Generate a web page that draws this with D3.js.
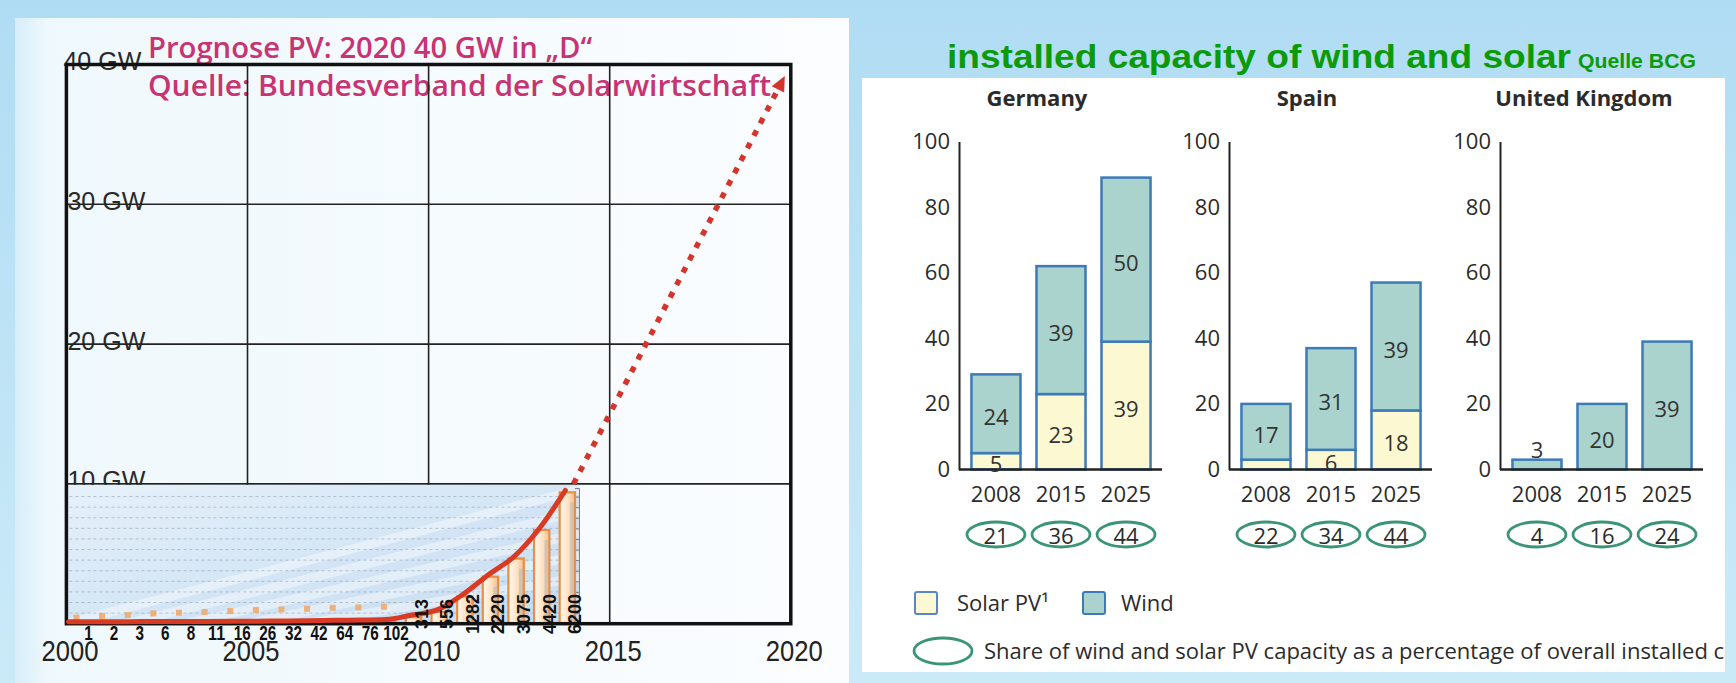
<!DOCTYPE html>
<html>
<head>
<meta charset="utf-8">
<script src="https://cdn.jsdelivr.net/npm/d3@7"></script>
<style>
  html, body { margin: 0; padding: 0; background: #c2e5f6; }
  svg { display: block; }
</style>
</head>
<body>
<svg id="chart" width="1736" height="683"></svg>
<script>
// ---------- Left panel: German PV capacity with 2020 outlook ----------
const yearTicks = [2000, 2005, 2010, 2015, 2020];
const gwTicks = [10, 20, 30, 40];
const gwTickLabels = ["10 GW", "20 GW", "30 GW", "40 GW"];
// installed PV (MW) shown as the small bar series
const pvLabels = ["1", "2", "3", "6", "8", "11", "16", "26", "32", "42", "64", "76", "102",
                  "313", "556", "1282", "2220", "3075", "4420", "6200"];
const pvMW = [1, 2, 3, 6, 8, 11, 16, 26, 32, 42, 64, 76, 102,
              313, 556, 1282, 2220, 3075, 4420, 6200];
const forecastYears = [2014, 2020];
const forecastGW = [10, 40];
const forecastLine1 = "Prognose PV: 2020 40 GW in \u201eD\u201c";
const forecastLine2 = "Quelle: Bundesverband der Solarwirtschaft";

// ---------- Right panel: installed capacity of wind and solar (GW) ----------
const countries = ["Germany", "Spain", "United Kingdom"];
const periods = ["2008", "2015", "2025"];
const solarGermany = [5, 23, 39];
const windGermany = [24, 39, 50];
const solarSpain = [3, 6, 18];
const windSpain = [17, 31, 39];
const solarUK = [0, 0, 0];
const windUK = [3, 20, 39];
const shareGermany = [21, 36, 44];
const shareSpain = [22, 34, 44];
const shareUK = [4, 16, 24];
const capacityTicks = [0, 20, 40, 60, 80, 100];

const svg = d3.select("#chart");
const defs = svg.append("defs");

function linGrad(id, x2, y2, stops) {
  const g = defs.append("linearGradient").attr("id", id)
    .attr("x1", 0).attr("y1", 0).attr("x2", x2).attr("y2", y2);
  stops.forEach(([o, c]) => g.append("stop").attr("offset", o).attr("stop-color", c));
}
linGrad("bgGrad", 0, 1, [["0%", "#b0dcf3"], ["100%", "#cbeaf8"]]);
linGrad("leftGrad", 1, 0, [["0%", "#d6edf9"], ["4%", "#eff8fc"], ["100%", "#fbfdff"]]);
linGrad("insetGrad", 1, 1, [["0%", "#e6f1fa"], ["55%", "#d3e5f5"], ["100%", "#c7dcf2"]]);
linGrad("barGrad", 1, 0, [["0%", "#fffaf3"], ["60%", "#fde0bd"], ["100%", "#f6bb84"]]);

// page background and white panels
svg.append("rect").attr("width", 1736).attr("height", 683).attr("fill", "url(#bgGrad)");
svg.append("rect").attr("x", 15).attr("y", 18).attr("width", 834).attr("height", 665)
  .attr("fill", "url(#leftGrad)");
svg.append("rect").attr("x", 862).attr("y", 78).attr("width", 863).attr("height", 594)
  .attr("fill", "#ffffff");

// ================= LEFT CHART =================
const x = d3.scaleLinear().domain([2000, 2020]).range([66.4, 790.8]);
const y = d3.scaleLinear().domain([0, 40]).range([623.7, 64.5]);
const left = svg.append("g");

// pink forecast caption
const pinkFont = "'Open Sans', 'DejaVu Sans', sans-serif";
left.append("text").attr("x", 148).attr("y", 58).attr("textLength", 444)
  .attr("lengthAdjust", "spacingAndGlyphs")
  .attr("font-family", pinkFont).attr("font-weight", 600).attr("font-size", 28)
  .attr("fill", "#c83373").text(forecastLine1);
left.append("text").attr("x", 148).attr("y", 96).attr("textLength", 623)
  .attr("lengthAdjust", "spacingAndGlyphs")
  .attr("font-family", pinkFont).attr("font-weight", 600).attr("font-size", 28)
  .attr("fill", "#c83373").text(forecastLine2);

// GW labels (the grid lines run through them)
left.selectAll("text.gw").data(gwTicks).join("text").attr("class", "gw")
  .attr("x", d => x(2000) + (d === 40 ? -3 : 1))
  .attr("y", d => y(d) + 5.5)
  .attr("textLength", 78).attr("lengthAdjust", "spacingAndGlyphs")
  .attr("font-family", "'Liberation Sans', Arial, sans-serif").attr("font-size", 26)
  .attr("fill", "#2a2a2a").text((d, i) => gwTickLabels[i]);

// grid
left.selectAll("line.vg").data(yearTicks.slice(1, 4)).join("line").attr("class", "vg")
  .attr("x1", d => x(d)).attr("x2", d => x(d)).attr("y1", y(40)).attr("y2", y(0))
  .attr("stroke", "#222").attr("stroke-width", 1.6);
left.selectAll("line.hg").data(gwTicks.slice(0, 3)).join("line").attr("class", "hg")
  .attr("x1", x(2000)).attr("x2", x(2020)).attr("y1", d => y(d)).attr("y2", d => y(d))
  .attr("stroke", "#222").attr("stroke-width", 1.6);

// inset with the installed-MW bars
const xi = d3.scaleBand().domain(pvLabels).range([x(2000.2), x(2014.35)])
  .paddingInner(0.4).paddingOuter(0.2);
const yi = d3.scaleLinear().domain([0, 6400]).range([y(0), y(9.7)]);
const insetRight = x(2014.15);
left.append("rect").attr("x", x(2000)).attr("y", y(10) + 1)
  .attr("width", insetRight - x(2000)).attr("height", y(0) - y(10) - 1)
  .attr("fill", "url(#insetGrad)");
// soft diagonal streaks of the panel artwork
const streaks = left.append("g").attr("opacity", 0.4);
[0, 1, 2, 3, 4].forEach(k => {
  streaks.append("path")
    .attr("d", `M${x(2000) + k * 60},${y(0)} L${insetRight},${y(9.6) + k * 22}`)
    .attr("stroke", "#ffffff").attr("stroke-width", 9).attr("fill", "none");
});
const insetGrid = d3.range(500, 6500, 500);
left.selectAll("line.ig").data(insetGrid).join("line").attr("class", "ig")
  .attr("x1", x(2000) + 3).attr("x2", insetRight).attr("y1", d => yi(d)).attr("y2", d => yi(d))
  .attr("stroke", "#8c9aab").attr("stroke-width", 1).attr("stroke-dasharray", "3 3")
  .attr("opacity", 0.55);
left.append("g").attr("transform", `translate(${insetRight},0)`)
  .call(d3.axisLeft(yi).tickValues(insetGrid).tickSize(4).tickFormat(""))
  .call(g => g.selectAll("line,path").attr("stroke", "#777").attr("stroke-width", 1));

const barShift = -6;
const bw = xi.bandwidth();
const big = pvMW.map(v => v >= 200);

// markers for the earliest small values
const markerLift = d3.scaleLog().domain([1, 102]).range([6, 17]);
left.selectAll("rect.mk").data(pvMW.filter(v => v < 200)).join("rect").attr("class", "mk")
  .attr("x", (d, i) => xi(pvLabels[i]) + bw / 2 - 13)
  .attr("y", d => y(0) - markerLift(d) - 3)
  .attr("width", 6).attr("height", 6).attr("fill", "#eeaa6e").attr("opacity", 0.9);

// bars
left.selectAll("rect.pv").data(pvMW).join("rect").attr("class", "pv")
  .attr("x", (d, i) => xi(pvLabels[i]) + barShift)
  .attr("y", d => yi(d)).attr("width", bw).attr("height", d => yi(0) - yi(d))
  .attr("fill", "url(#barGrad)").attr("stroke", "#e88e45").attr("stroke-width", 2.2);
left.selectAll("rect.sh").data(pvMW.filter(v => v >= 200)).join("rect").attr("class", "sh")
  .attr("x", d => xi(pvLabels[pvMW.indexOf(d)]) + barShift + bw - 5)
  .attr("y", d => yi(d) + 10).attr("width", 4).attr("height", d => Math.max(0, yi(0) - yi(d) - 10))
  .attr("fill", "#b9b9b9").attr("opacity", 0.55);

// frame
left.append("rect").attr("x", x(2000)).attr("y", y(40))
  .attr("width", x(2020) - x(2000)).attr("height", y(0) - y(40))
  .attr("fill", "none").attr("stroke", "#111").attr("stroke-width", 3.5);

// solid growth curve, from the chart origin through the bar tops
const curvePts = [[x(2000) + 2, yi(0) - 2]].concat(
  pvMW.map((v, i) => [xi(pvLabels[i]) + bw / 2 + barShift - 2, yi(v) - 2]));
left.append("path").datum(curvePts)
  .attr("d", d3.line().curve(d3.curveMonotoneX))
  .attr("fill", "none").attr("stroke", "#d93a24").attr("stroke-width", 5)
  .attr("stroke-linecap", "round");

// dotted forecast with arrow head
const fx0 = x(forecastYears[0]), fy0 = y(forecastGW[0]);
const fx1 = x(forecastYears[1]), fy1 = y(forecastGW[1]);
const len = Math.hypot(fx1 - fx0, fy1 - fy0);
const ux = (fx1 - fx0) / len, uy = (fy1 - fy0) / len;
const tipX = fx1 - 13 * ux, tipY = fy1 - 13 * uy;
left.append("line").attr("x1", fx0).attr("y1", fy0)
  .attr("x2", tipX - 10 * ux).attr("y2", tipY - 10 * uy)
  .attr("stroke", "#d5342b").attr("stroke-width", 5.5).attr("stroke-dasharray", "6 8");
const bx = tipX - 15 * ux, by = tipY - 15 * uy;
left.append("path")
  .attr("d", `M${tipX},${tipY} L${bx - 7 * uy},${by + 7 * ux} L${bx + 7 * uy},${by - 7 * ux} Z`)
  .attr("fill", "#d5342b");

// value labels under/at the bars
left.selectAll("text.pvl").data(pvMW).join("text").attr("class", "pvl")
  .attr("font-family", "'Liberation Sans', Arial, sans-serif").attr("font-weight", "bold")
  .attr("fill", "#111")
  .each(function (d, i) {
    const t = d3.select(this);
    const cx = xi(pvLabels[i]) + bw / 2 + 2;
    if (big[i]) {
      t.attr("font-size", 18).attr("text-anchor", "middle").attr("dominant-baseline", "central")
        .attr("transform", `translate(${cx},614) rotate(-90)`);
    } else {
      t.attr("font-size", 21).attr("text-anchor", "middle").attr("x", cx).attr("y", 640)
        .attr("textLength", pvLabels[i].length * 8.5).attr("lengthAdjust", "spacingAndGlyphs");
    }
  })
  .text((d, i) => pvLabels[i]);

// year axis labels
left.selectAll("text.yr").data(yearTicks).join("text").attr("class", "yr")
  .attr("x", d => x(d) + 3 - 28).attr("y", 661)
  .attr("textLength", 57).attr("lengthAdjust", "spacingAndGlyphs")
  .attr("font-family", "'Liberation Sans', Arial, sans-serif").attr("font-size", 30)
  .attr("fill", "#222").text(d => d);

// ================= RIGHT CHART =================
const right = svg.append("g");
const bcgFont = "'Open Sans', 'Liberation Sans', sans-serif";
right.append("text").attr("x", 947).attr("y", 68).attr("textLength", 624)
  .attr("lengthAdjust", "spacingAndGlyphs")
  .attr("font-family", "'Liberation Sans', Arial, sans-serif").attr("font-weight", "bold")
  .attr("font-size", 33).attr("fill", "#0a9a0a").text("installed capacity of wind and solar");
right.append("text").attr("x", 1578).attr("y", 68).attr("textLength", 118)
  .attr("lengthAdjust", "spacingAndGlyphs")
  .attr("font-family", "'Liberation Sans', Arial, sans-serif").attr("font-weight", "bold")
  .attr("font-size", 20).attr("fill", "#0a9a0a").text("Quelle BCG");

const yB = d3.scaleLinear().domain([0, 100]).range([469.5, 141.5]);
const axisXs = [959, 1229, 1500];
const solarSets = [solarGermany, solarSpain, solarUK];
const windSets = [windGermany, windSpain, windUK];
const shareSets = [shareGermany, shareSpain, shareUK];
const windFill = "#a9d3cc", solarFill = "#fcf9d2", barStroke = "#3d7ab8";

countries.forEach((country, ci) => {
  const ax = axisXs[ci];
  const g = right.append("g");
  const xb = d3.scaleBand().domain(periods).range([ax + 4, ax + 200])
    .paddingInner(0.246).paddingOuter(0.13);

  g.append("text").attr("x", ax + 78 + (ci === 2 ? 6 : 0)).attr("y", 106)
    .attr("text-anchor", "middle").attr("font-family", bcgFont).attr("font-weight", 700)
    .attr("font-size", 22).attr("fill", "#2b2b2b").text(country);

  g.append("g").attr("transform", `translate(${ax},0)`)
    .call(d3.axisLeft(yB).tickValues(capacityTicks).tickSize(0).tickPadding(9))
    .call(a => a.select(".domain").attr("stroke", "#222").attr("stroke-width", 2))
    .call(a => a.selectAll("text").attr("font-family", bcgFont).attr("font-size", 22)
      .attr("fill", "#2b2b2b"));

  const rows = periods.map((p, i) => ({ p, solar: solarSets[ci][i], wind: windSets[ci][i], share: shareSets[ci][i] }));

  // stacked bars: solar at the bottom, wind on top
  rows.forEach(r => {
    const bx0 = xb(r.p), w = xb.bandwidth();
    if (r.solar > 0) {
      g.append("rect").attr("x", bx0).attr("y", yB(r.solar)).attr("width", w)
        .attr("height", yB(0) - yB(r.solar)).attr("fill", solarFill)
        .attr("stroke", barStroke).attr("stroke-width", 2.5);
    }
    g.append("rect").attr("x", bx0).attr("y", yB(r.solar + r.wind)).attr("width", w)
      .attr("height", yB(r.solar) - yB(r.solar + r.wind)).attr("fill", windFill)
      .attr("stroke", barStroke).attr("stroke-width", 2.5);
  });

  g.append("line").attr("x1", ax).attr("x2", ax + 203).attr("y1", yB(0)).attr("y2", yB(0))
    .attr("stroke", "#222").attr("stroke-width", 2.5);

  // segment labels
  rows.forEach(r => {
    const cx = xb(r.p) + xb.bandwidth() / 2;
    const windH = yB(r.solar) - yB(r.solar + r.wind);
    const wy = windH < 20 ? yB(r.solar + r.wind) - 11 : yB(r.solar + r.wind / 2) + 2;
    g.append("text").attr("x", cx).attr("y", wy).attr("text-anchor", "middle")
      .attr("dominant-baseline", "central").attr("font-family", bcgFont).attr("font-size", 22)
      .attr("fill", "#333").text(r.wind);
    if (r.solar >= 5) {
      g.append("text").attr("x", cx).attr("y", yB(r.solar / 2) + 2).attr("text-anchor", "middle")
        .attr("dominant-baseline", "central").attr("font-family", bcgFont).attr("font-size", 22)
        .attr("fill", "#333").text(r.solar);
    }
    // period label and share ellipse
    g.append("text").attr("x", cx).attr("y", 502).attr("text-anchor", "middle")
      .attr("font-family", bcgFont).attr("font-size", 22).attr("fill", "#2b2b2b").text(r.p);
    g.append("ellipse").attr("cx", cx).attr("cy", 534.5).attr("rx", 29).attr("ry", 12.5)
      .attr("fill", "none").attr("stroke", "#3a9577").attr("stroke-width", 2.8);
    g.append("text").attr("x", cx).attr("y", 535).attr("text-anchor", "middle")
      .attr("dominant-baseline", "central").attr("font-family", bcgFont).attr("font-size", 22)
      .attr("fill", "#2b2b2b").text(r.share);
  });
});

// legend
const lg = right.append("g").attr("font-family", bcgFont).attr("font-size", 22).attr("fill", "#2b2b2b");
lg.append("rect").attr("x", 915).attr("y", 592).attr("width", 22).attr("height", 22).attr("rx", 2)
  .attr("fill", solarFill).attr("stroke", "#5a86c2").attr("stroke-width", 2);
lg.append("text").attr("x", 957).attr("y", 611).text("Solar PV\u00b9");
lg.append("rect").attr("x", 1083).attr("y", 592).attr("width", 22).attr("height", 22).attr("rx", 2)
  .attr("fill", windFill).attr("stroke", barStroke).attr("stroke-width", 2);
lg.append("text").attr("x", 1121).attr("y", 611).text("Wind");
lg.append("ellipse").attr("cx", 943).attr("cy", 651).attr("rx", 29).attr("ry", 13)
  .attr("fill", "none").attr("stroke", "#3a9577").attr("stroke-width", 2.8);
defs.append("clipPath").attr("id", "panelClip").append("rect")
  .attr("x", 862).attr("y", 78).attr("width", 863).attr("height", 594);
lg.append("text").attr("x", 984).attr("y", 659).attr("clip-path", "url(#panelClip)")
  .text("Share of wind and solar PV capacity as a percentage of overall installed capacity");
</script>
</body>
</html>
